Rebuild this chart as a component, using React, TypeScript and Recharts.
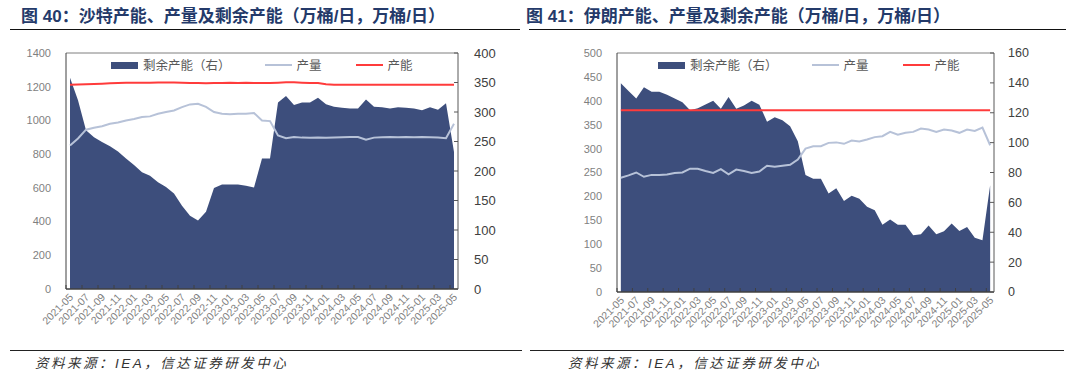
import { ComposedChart, Area, Line, XAxis, YAxis, Legend } from "recharts";

// monthly categories, 2021-05 .. 2025-05
const months = [
  "2021-05", "2021-06", "2021-07", "2021-08", "2021-09", "2021-10", "2021-11", "2021-12",
  "2022-01", "2022-02", "2022-03", "2022-04", "2022-05", "2022-06", "2022-07", "2022-08", "2022-09", "2022-10", "2022-11", "2022-12",
  "2023-01", "2023-02", "2023-03", "2023-04", "2023-05", "2023-06", "2023-07", "2023-08", "2023-09", "2023-10", "2023-11", "2023-12",
  "2024-01", "2024-02", "2024-03", "2024-04", "2024-05", "2024-06", "2024-07", "2024-08", "2024-09", "2024-10", "2024-11", "2024-12",
  "2025-01", "2025-02", "2025-03", "2025-04", "2025-05",
];

// Saudi Arabia (万桶/日)
const saudiSpare = [
  358, 320, 269, 257, 249, 242, 233, 221, 210, 198, 192, 181, 173, 162, 141, 124, 116, 131, 171, 177,
  177, 177, 175, 172, 221, 221, 316, 327, 312, 316, 316, 324, 313, 309, 307, 306, 306, 321, 309, 308,
  306, 308, 307, 306, 303, 308, 304, 315, 232,
];
const saudiOutput = [
  851, 893, 945, 956, 966, 980, 988, 1000, 1008, 1020, 1024, 1040, 1050, 1059, 1079, 1095, 1099, 1080, 1050, 1040,
  1036, 1040, 1040, 1044, 1000, 996, 911, 895, 901, 898, 897, 898, 897, 899, 900, 901, 902, 885, 898, 900,
  902, 900, 901, 900, 902, 900, 898, 895, 980,
];
const saudiCapacity = [
  1212, 1213, 1214, 1216, 1218, 1220, 1222, 1224, 1224, 1224, 1224, 1225, 1225, 1225, 1224, 1222, 1222, 1221, 1222, 1222,
  1224, 1222, 1224, 1222, 1222, 1222, 1224, 1226, 1226, 1224, 1222, 1222, 1214, 1212, 1212, 1212, 1212, 1212, 1212, 1212,
  1212, 1212, 1212, 1212, 1212, 1212, 1212, 1212, 1212,
];

// Iran (万桶/日)
const iranSpare = [
  139.8, 134.5, 129.6, 137, 134, 134, 132, 129.6, 127, 121.6, 123, 125.5, 128, 122.6, 130.6, 122.6, 124.8, 128, 125.4, 114,
  117, 115, 111, 101, 78.4, 75.8, 75.8, 66, 69.5, 61, 64.5, 62.5, 57, 54.7, 45, 48.5, 45, 45, 38, 38.6,
  44.6, 38.6, 40.6, 45.8, 40.8, 43.5, 36.4, 34.6, 71.4,
];
const iranOutput = [
  239, 244, 250, 241, 245, 245, 246, 249, 250, 258, 258, 253, 249, 257, 246, 256, 253, 249, 252, 264,
  262, 264, 266, 277, 300, 305, 305, 312, 313, 310, 317, 315, 319, 324, 326, 335, 329, 333, 335, 342,
  340, 335, 340, 338, 333, 340, 337, 344, 307,
];
const iranCapacity = [
  380, 380, 380, 380, 380, 380, 380, 380, 380, 380, 380, 380, 380, 380, 380, 380, 380, 380, 380, 380,
  380, 380, 380, 380, 380, 380, 380, 380, 380, 380, 380, 380, 380, 380, 380, 380, 380, 380, 380, 380,
  380, 380, 380, 380, 380, 380, 380, 380, 380,
];

const saudiLeftTicks = [0, 200, 400, 600, 800, 1000, 1200, 1400];
const saudiRightTicks = [0, 50, 100, 150, 200, 250, 300, 350, 400];
const iranLeftTicks = [0, 50, 100, 150, 200, 250, 300, 350, 400, 450, 500];
const iranRightTicks = [0, 20, 40, 60, 80, 100, 120, 140, 160];

const seriesNames = ["剩余产能（右）", "产量", "产能"];
const titles = [
  "图 40：沙特产能、产量及剩余产能（万桶/日，万桶/日）",
  "图 41：伊朗产能、产量及剩余产能（万桶/日，万桶/日）",
];
const sourceText = "资料来源：IEA，信达证券研发中心";

const AREA = "#3D4E7C";
const OUTPUT = "#B7C2D8";
const CAP = "#FF3B3B";
const FONT = '"Liberation Sans", Arial, "Noto Sans CJK SC", sans-serif';

function MonthTick(props: any) {
  const { x, y, payload, half } = props;
  return (
    <g>
      <line x1={x - half} y1={y} x2={x - half} y2={y - 4} stroke="#404040" />
      <text
        transform={`translate(${x + 2},${y + 7}) rotate(-45)`}
        textAnchor="end"
        dominantBaseline="middle"
        fontSize={10.5}
        fill="#7f7f7f"
      >
        {payload.value}
      </text>
    </g>
  );
}

function RightTick(props: any) {
  const { x, y, payload, gap, size } = props;
  return (
    <g>
      <line x1={x - 4} y1={y} x2={x} y2={y} stroke="#595959" />
      <text x={x + gap} y={y} dy="0.35em" textAnchor="start" fontSize={size} fill="#404040">
        {payload.value}
      </text>
    </g>
  );
}

function LegendRow({ payload, start }: any) {
  // keep the legend in the same order as the series are declared
  const items = [...(payload || [])].sort(
    (a: any, b: any) => seriesNames.indexOf(a.value) - seriesNames.indexOf(b.value)
  );
  return (
    <div style={{ position: "relative", height: 16, fontFamily: '"Noto Sans CJK SC", sans-serif' }}>
      <div style={{ position: "absolute", left: start, top: 0, display: "flex", alignItems: "center", whiteSpace: "nowrap" }}>
        {items.map((p: any, i: number) => (
          <div key={i} style={{ display: "flex", alignItems: "center", marginRight: 34 }}>
            {p.type === "rect" ? (
              <div style={{ width: 27, height: 7, background: p.color }} />
            ) : (
              <div style={{ width: 27, height: 2, background: p.color }} />
            )}
            <span style={{ marginLeft: 5, fontSize: 12.5, color: "#595959", lineHeight: "16px" }}>{p.value}</span>
          </div>
        ))}
      </div>
    </div>
  );
}

type PanelProps = {
  spare: number[];
  output: number[];
  capacity: number[];
  leftTicks: number[];
  rightTicks: number[];
  margin: { top: number; right: number; bottom: number; left: number };
  half: number;
  legendStart: number;
  rightSize: number;
  rightGap: number;
};

function Panel({ spare, output, capacity, leftTicks, rightTicks, margin, half, legendStart, rightSize, rightGap }: PanelProps) {
  const rows = months.map((m, i) => ({ month: m, spare: spare[i], output: output[i], capacity: capacity[i] }));
  return (
    <ComposedChart width={540} height={345} data={rows} margin={margin}>
      <XAxis
        dataKey="month"
        interval={1}
        padding={{ left: half, right: half }}
        height={45}
        tickSize={0}
        tickMargin={0}
        tickLine={false}
        axisLine={{ stroke: "#404040", strokeWidth: 1.5 }}
        tick={<MonthTick half={half} />}
      />
      <XAxis xAxisId="top" dataKey="month" orientation="top" height={1} tick={false} tickLine={false} axisLine={{ stroke: "#7f7f7f" }} />
      <YAxis
        yAxisId="left"
        domain={[leftTicks[0], leftTicks[leftTicks.length - 1]]}
        ticks={leftTicks}
        width={50}
        tickSize={0}
        tickMargin={15}
        tickLine={false}
        axisLine={{ stroke: "#404040" }}
        tick={{ fontSize: 11, fill: "#7f7f7f" }}
      />
      <YAxis
        yAxisId="right"
        orientation="right"
        domain={[rightTicks[0], rightTicks[rightTicks.length - 1]]}
        ticks={rightTicks}
        width={50}
        tickSize={0}
        tickMargin={0}
        tickLine={false}
        axisLine={{ stroke: "#595959" }}
        tick={<RightTick gap={rightGap} size={rightSize} />}
      />
      <Legend
        layout="horizontal"
        verticalAlign="middle"
        align="center"
        wrapperStyle={{ top: 57, left: 0, width: 540, height: 16 }}
        content={(p: any) => <LegendRow payload={p.payload} start={legendStart} />}
      />
      <Area
        yAxisId="right"
        type="linear"
        dataKey="spare"
        name={seriesNames[0]}
        legendType="rect"
        fill={AREA}
        fillOpacity={1}
        stroke="none"
        isAnimationActive={false}
      />
      <Line yAxisId="left" type="linear" dataKey="output" name={seriesNames[1]} stroke={OUTPUT} strokeWidth={2} dot={false} isAnimationActive={false} />
      <Line yAxisId="left" type="linear" dataKey="capacity" name={seriesNames[2]} stroke={CAP} strokeWidth={2} dot={false} isAnimationActive={false} />
    </ComposedChart>
  );
}

export default function App() {
  const titleStyle: any = {
    position: "absolute",
    top: 7,
    fontSize: 17,
    lineHeight: "20px",
    fontWeight: 700,
    color: "#243A6A",
    whiteSpace: "nowrap",
  };
  const srcStyle: any = {
    position: "absolute",
    top: 355,
    fontSize: 13.5,
    lineHeight: "18px",
    fontStyle: "italic",
    letterSpacing: 2.5,
    color: "#333",
    whiteSpace: "nowrap",
  };
  return (
    <div style={{ position: "absolute", left: 0, top: 0, width: 1080, height: 374, background: "#fff", overflow: "hidden", fontFamily: FONT }}>
      <div style={{ ...titleStyle, left: 21 }}>{titles[0]}</div>
      <div style={{ ...titleStyle, left: 526 }}>{titles[1]}</div>
      <div style={{ position: "absolute", left: 10, top: 29, width: 510, borderTop: "1.3px solid #111" }} />
      <div style={{ position: "absolute", left: 529, top: 29, width: 537, borderTop: "1.3px solid #111" }} />

      <div style={{ position: "absolute", left: 0, top: 0 }}>
        <Panel
          spare={saudiSpare}
          output={saudiOutput}
          capacity={saudiCapacity}
          leftTicks={saudiLeftTicks}
          rightTicks={saudiRightTicks}
          margin={{ top: 52, right: 32, bottom: 11, left: 16 }}
          half={4}
          legendStart={111}
          rightSize={13}
          rightGap={16}
        />
      </div>
      <div style={{ position: "absolute", left: 540, top: 0 }}>
        <Panel
          spare={iranSpare}
          output={iranOutput}
          capacity={iranCapacity}
          leftTicks={iranLeftTicks}
          rightTicks={iranRightTicks}
          margin={{ top: 52, right: 36, bottom: 8, left: 27 }}
          half={3.85}
          legendStart={118}
          rightSize={12.5}
          rightGap={14}
        />
      </div>

      <div style={{ position: "absolute", left: 10, top: 350, width: 512, borderTop: "1px solid #222" }} />
      <div style={{ position: "absolute", left: 530, top: 350, width: 534, borderTop: "1px solid #222" }} />
      <div style={{ ...srcStyle, left: 35 }}>{sourceText}</div>
      <div style={{ ...srcStyle, left: 568 }}>{sourceText}</div>
    </div>
  );
}
